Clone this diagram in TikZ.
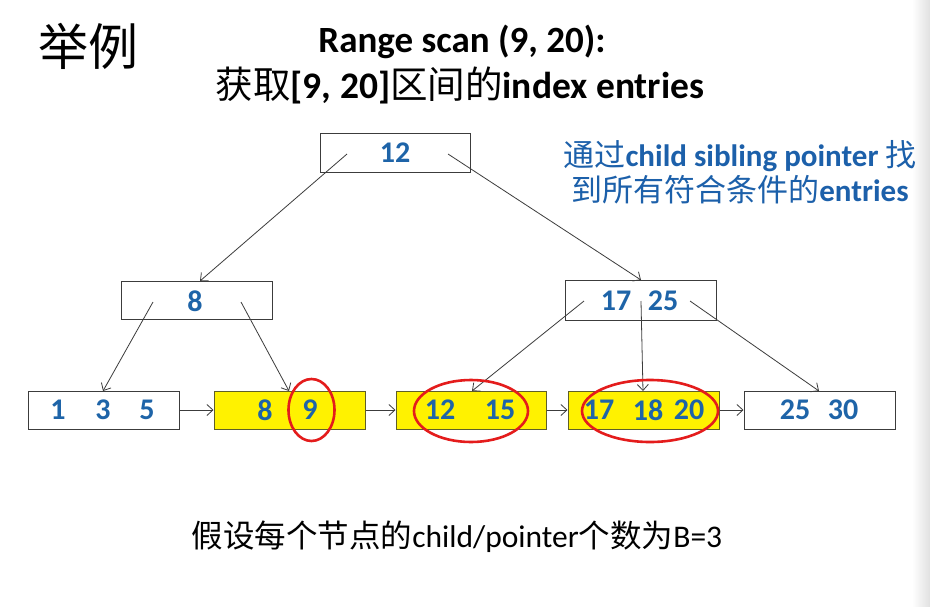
\documentclass[tikz,border=0pt]{standalone}
\usepackage{fontspec}
\setmainfont{Carlito}
\newfontfamily\cjk{Noto Sans CJK SC}
\usetikzlibrary{arrows.meta}
\definecolor{numblue}{RGB}{30,100,168}
\definecolor{noteblue}{RGB}{28,96,170}
\definecolor{boxline}{RGB}{60,60,60}
\definecolor{ylwline}{RGB}{95,95,40}
\definecolor{markred}{RGB}{228,28,28}
\begin{document}
\begin{tikzpicture}[x=1pt,y=-1pt,
  box/.style={draw=boxline, line width=1pt, fill=white, inner sep=0pt, minimum height=38pt, minimum width=151pt},
  ybox/.style={box, draw=ylwline, fill=yellow},
  num/.style={text=numblue, font=\bfseries\fontsize{30}{30}\selectfont, inner sep=0pt},
  arr/.style={draw=boxline, line width=0.8pt, -{Straight Barb[length=6pt,width=11pt]}},
  redring/.style={draw=markred, line width=2.6pt}
]
\useasboundingbox (0,0) rectangle (930,606);
\fill[white] (0,0) rectangle (930,606);
\shade[left color=white, right color=black!12] (912,0) rectangle (930,606);

% texts
\node (ttl0) [font=\cjk\fontsize{50}{50}\selectfont] at (88,46) {举例};
\node (ttl1) [font=\bfseries\fontsize{37}{37}\selectfont] at (462,42) {Range scan (9, 20):};
\node (ttl2) [font=\fontsize{37.5}{37.5}\selectfont] at (460,85) {{\cjk 获取}\textbf{[9, 20]}{\cjk 区间的}\textbf{index entries}};
\node (note) [align=center, text=noteblue, font=\fontsize{31}{35}\selectfont] at (740,172) {{\cjk 通过}\textbf{child sibling pointer} {\cjk 找}\\{\cjk 到所有符合条件的}\textbf{entries}};
\node (foot) [font=\fontsize{31.5}{31.5}\selectfont] at (457,537) {{\cjk 假设每个节点的}child/pointer{\cjk 个数为}B=3};

% boxes
\node (root) [box, minimum width=150pt, minimum height=39pt] at (395,152.5) {};
\node (n8) [box] at (196.5,300) {};
\node (n1725) [box, minimum height=40pt] at (640.5,300.5) {};
\node (l1) [box] at (103.5,410) {};
\node (l2) [ybox] at (289.5,410) {};
\node (l3) [ybox, minimum width=150pt] at (471,410) {};
\node (l4) [ybox] at (643.5,410) {};
\node (l5) [box] at (819.5,410) {};

% numbers
\node (t12r) [num] at (395,153) {12};
\node (t8m) [num] at (195,301) {8};
\node (t17m) [num] at (616,301) {17};
\node (t25m) [num] at (663,301) {25};
\node (ta1) [num] at (58,410) {1};
\node (ta3) [num] at (103,410) {3};
\node (ta5) [num] at (147,410) {5};
\node (tb8) [num] at (265,410) {8};
\node (tb9) [num] at (310,410) {9};
\node (tc12) [num] at (440,410) {12};
\node (tc15) [num] at (500,410) {15};
\node (td17) [num] at (599,410) {17};
\node (td18) [num] at (648,410) {18};
\node (td20) [num] at (689,410) {20};
\node (te25) [num] at (795,410) {25};
\node (te30) [num] at (843,410) {30};

% pointer coordinates
\coordinate (rs1) at (347,154); \coordinate (re1) at (200,281);
\coordinate (rs2) at (448,154); \coordinate (re2) at (641,280);
\coordinate (as1) at (153,302); \coordinate (ae1) at (103,391);
\coordinate (as2) at (241,302); \coordinate (ae2) at (289,391);
\coordinate (bs1) at (584,301); \coordinate (be1) at (472,391);
\coordinate (bs2) at (641,301); \coordinate (be2) at (643,391);
\coordinate (bs3) at (690,301); \coordinate (be3) at (819,391);

\draw[arr] (rs1) -- (re1);
\draw[arr] (rs2) -- (re2);
\draw[arr] (as1) -- (ae1);
\draw[arr] (as2) -- (ae2);
\draw[arr] (bs1) -- (be1);
\draw[arr] (bs2) -- (be2);
\draw[arr] (bs3) -- (be3);

% sibling pointers
\draw[arr] (l1) -- (l2);
\draw[arr] (l2) -- (l3);
\draw[arr] (l3) -- (l4);
\draw[arr] (l4) -- (l5);

% red marks
\draw[redring] (311.5,410) ellipse [x radius=23, y radius=31];
\draw[redring] (471,411) ellipse [x radius=57, y radius=31];
\draw[redring] (650,411) ellipse [x radius=68, y radius=31];
\end{tikzpicture}
\end{document}
